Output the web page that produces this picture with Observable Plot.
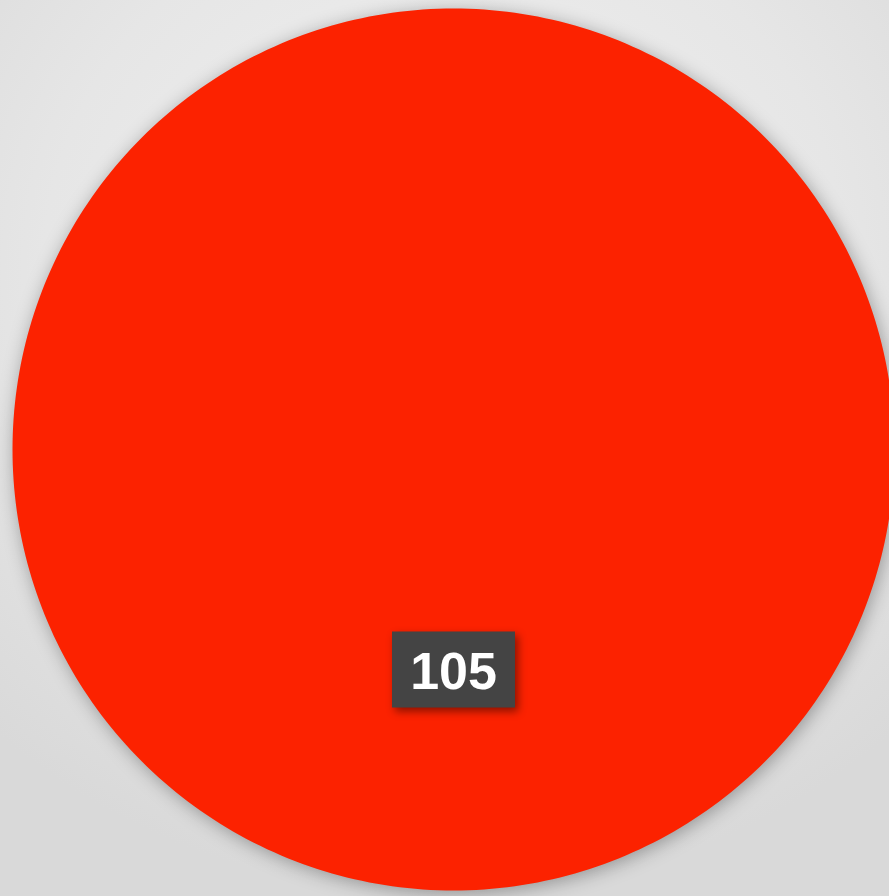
<!DOCTYPE html>
<html>
<head>
<meta charset="utf-8">
<script src="https://cdn.jsdelivr.net/npm/d3@7"></script>
<script src="https://cdn.jsdelivr.net/npm/@observablehq/plot@0.6"></script>
<style>
  html, body { margin: 0; padding: 0; }
  body {
    width: 889px; height: 896px; overflow: hidden;
    background: radial-gradient(ellipse 75% 70% at 50% 30%, #f2f2f2 0%, #e6e6e6 60%, #d9d9d9 100%);
  }
  #chart svg { display: block; background: transparent; overflow: visible; }
  #chart svg g[aria-label="line"] { filter: drop-shadow(2px 3px 9px rgba(0,0,0,0.32)); }
  #chart svg g[aria-label="rect"] { filter: drop-shadow(3px 4px 4px rgba(0,0,0,0.45)); }
</style>
</head>
<body>
<div id="chart"></div>
<script>
// Data
const categories = ["A"];
const values = [105];
const colors = ["#fc2200"];

// Pie geometry from d3.pie (unit radius, data space)
const pie = d3.pie().sort(null)(values);
const arcPoints = [];
pie.forEach((s, i) => {
  const n = 360;
  arcPoints.push({cat: categories[i], x: 0, y: 0});
  for (let k = 0; k <= n; k++) {
    const a = s.startAngle + (s.endAngle - s.startAngle) * k / n;
    arcPoints.push({cat: categories[i], x: Math.sin(a), y: Math.cos(a)});
  }
});
const labels = pie.map((s, i) => {
  const mid = (s.startAngle + s.endAngle) / 2;
  return {cat: categories[i], value: values[i], x: 0.5 * Math.sin(mid), y: 0.5 * Math.cos(mid)};
});

const chart = Plot.plot({
  width: 889,
  height: 896,
  margin: 0,
  x: {domain: [-1, 1], range: [12, 894], axis: null},
  y: {domain: [-1, 1], range: [890, 8], axis: null},
  color: {domain: categories, range: colors},
  marks: [
    Plot.line(arcPoints, {
      x: "x", y: "y", z: "cat", fill: "cat", stroke: "none", curve: "linear"
    }),
    Plot.rect(labels, {
      x1: "x", x2: "x", y1: "y", y2: "y",
      insetLeft: -61, insetRight: -62, insetTop: -38, insetBottom: -38,
      fill: "#444444"
    }),
    Plot.text(labels, {
      x: "x", y: "y", text: d => String(d.value),
      fill: "white", fontSize: 52, fontWeight: "bold",
      fontFamily: "Liberation Sans, Arial, sans-serif",
      textAnchor: "middle", dy: 2
    })
  ]
});
document.getElementById("chart").appendChild(chart);
</script>
</body>
</html>
